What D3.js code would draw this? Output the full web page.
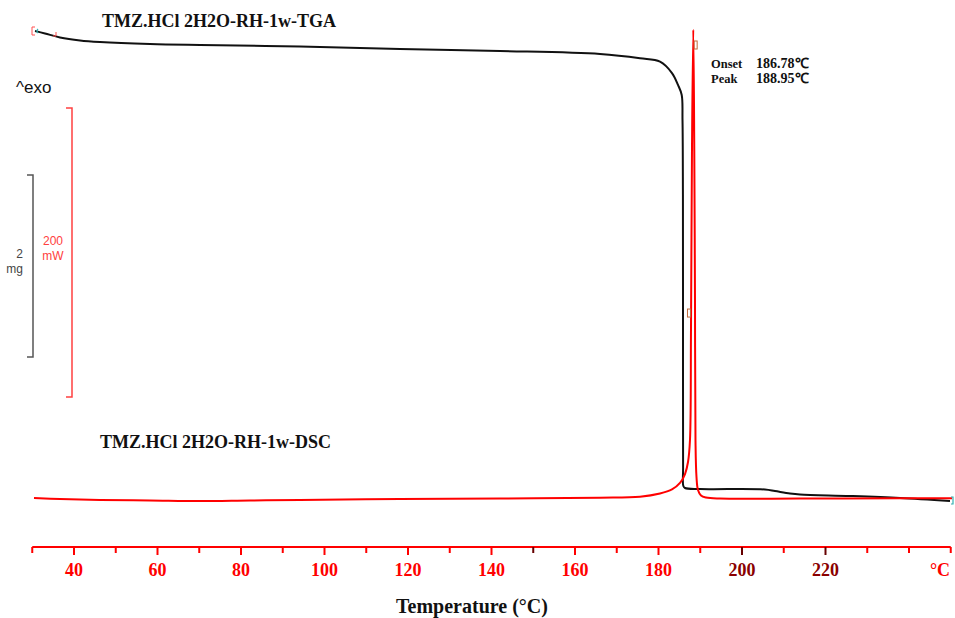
<!DOCTYPE html>
<html><head><meta charset="utf-8">
<script src="https://cdn.jsdelivr.net/npm/d3@7/dist/d3.min.js"></script>
<style>body{margin:0;background:#fff}svg{display:block}</style>
</head><body>
<svg id="c" width="955" height="618"></svg>
<script>
// ---- data ----
const tickValues = [40, 60, 80, 100, 120, 140, 160, 180, 200, 220];
const minorTicks = [30, 50, 70, 90, 110, 130, 150, 170, 190, 210, 230, 240];
const tgaTemp = [30.66, 33.05, 36.65, 41.44, 46.23, 58.2, 70.18, 94.13, 118.08, 142.04, 165.99, 175.57, 180.36, 183.23, 184.67, 185.56, 185.75, 185.85, 185.87, 185.89, 185.95, 186.35, 189.94, 205.51, 207.9, 211.5, 213.9, 225.87, 237.84, 249.82];
const tgaMass = [8.0, 7.973, 7.929, 7.896, 7.879, 7.857, 7.846, 7.83, 7.802, 7.78, 7.747, 7.7, 7.663, 7.538, 7.407, 7.297, 7.022, 6.2, 5.044, 3.2, 3.0, 2.978, 2.967, 2.962, 2.945, 2.918, 2.907, 2.89, 2.868, 2.835];
const dscTemp = [30.42, 36.65, 46.23, 58.2, 70.18, 82.16, 94.13, 118.08, 142.04, 165.99, 175.57, 180.36, 183.23, 185.15, 186.35, 187.07, 187.54, 187.78, 188.02, 188.33, 188.57, 188.74, 188.86, 189.1, 189.46, 190.18, 191.38, 194.73, 213.89, 237.84, 250.3];
const dscHeat = [0, -0.7, -1.4, -1.7, -2.1, -1.7, -1.4, -0.7, -0.35, 0.2, 0.9, 3.1, 5.9, 10.4, 16.6, 24.9, 40.1, 116, 241, 324, 241, 137, 40, 14.5, 5.5, 1.7, 0.35, -0.35, -0.35, -0.2, -0.14];
const onsetMarkTemp = [187.3, 188.9];
const onsetMarkHeat = [128, 313.5];
const tgaTitle = "TMZ.HCl 2H2O-RH-1w-TGA";
const dscTitle = "TMZ.HCl 2H2O-RH-1w-DSC";
const onsetLabel = ["Onset", "186.78℃"];
const peakLabel = ["Peak", "188.95℃"];

// ---- scales ----
const x = d3.scaleLinear().domain([30, 250]).range([32.25, 950.75]);
const yDsc = d3.scaleLinear().domain([0, 200]).range([498, 209]);   // mW, exo up
const yTga = d3.scaleLinear().domain([8, 6]).range([31, 213]);      // mg

const svg = d3.select("#c");
const serif = "'Liberation Serif','Times New Roman',serif";
const sans = "'Liberation Sans',Arial,sans-serif";
const RED = "#ff0000";

// ---- curves ----
const line = d3.line().curve(d3.curveCatmullRom.alpha(0.5));
const tgaPts = tgaTemp.map((t, i) => [x(t), yTga(tgaMass[i])]);
const dscPts = dscTemp.map((t, i) => [x(t), yDsc(dscHeat[i])]);

svg.append("path").attr("d", line(tgaPts)).attr("fill", "none")
  .attr("stroke", "#111").attr("stroke-width", 2);
svg.append("path").attr("d", line(dscPts)).attr("fill", "none")
  .attr("stroke", RED).attr("stroke-width", 2);

// start / end brackets
const s0 = tgaPts[0];
svg.append("path").attr("d", `M${s0[0]+0},${s0[1]-4} h-3 v8 h3`).attr("fill", "none").attr("stroke", "#ff5050").attr("stroke-width", 1);
svg.append("path").attr("d", `M${s0[0]+3},${s0[1]-2} q-2,2 0,4`).attr("fill", "none").attr("stroke", "#30b0b0").attr("stroke-width", 1.2);
svg.append("path").attr("d", `M${s0[0]+18},${s0[1]+5} h3 v-4`).attr("fill", "none").attr("stroke", "#ff5050").attr("stroke-width", 1);
const e0 = tgaPts[tgaPts.length - 1];
svg.append("path").attr("d", `M${e0[0]+1},${e0[1]-4} h2 v7 h-2`).attr("fill", "none").attr("stroke", "#30b0b0").attr("stroke-width", 1.2);

// onset markers
onsetMarkTemp.forEach((t, i) => {
  svg.append("rect").attr("x", x(t) - 1.5).attr("y", yDsc(onsetMarkHeat[i]) - 4)
    .attr("width", 3).attr("height", 8).attr("fill", "none")
    .attr("stroke", "#c06a3a").attr("stroke-width", 1);
});

// ---- x axis ----
const axY = 547;
svg.append("line").attr("x1", x(30)).attr("x2", x(250)).attr("y1", axY).attr("y2", axY)
  .attr("stroke", RED).attr("stroke-width", 2);
svg.selectAll(".mt").data(minorTicks.concat([250])).enter().append("line")
  .attr("x1", d => x(d)).attr("x2", d => x(d)).attr("y1", axY).attr("y2", axY + 6)
  .attr("stroke", d => d === 150 ? "#600" : RED).attr("stroke-width", 2);
svg.selectAll(".Mt").data(tickValues).enter().append("line")
  .attr("x1", d => x(d)).attr("x2", d => x(d)).attr("y1", axY).attr("y2", axY + 8)
  .attr("stroke", d => d >= 200 ? "#600" : RED).attr("stroke-width", 2);
svg.selectAll(".tl").data(tickValues).enter().append("text")
  .attr("x", d => x(d)).attr("y", 576).attr("text-anchor", "middle")
  .attr("font-family", serif).attr("font-weight", "bold").attr("font-size", 18)
  .attr("fill", d => d >= 200 ? "#8a0000" : RED).text(d => d);
svg.append("text").attr("x", 940).attr("y", 576).attr("text-anchor", "middle")
  .attr("font-family", serif).attr("font-weight", "bold").attr("font-size", 18)
  .attr("fill", RED).text("°C");
svg.append("text").attr("x", 472).attr("y", 613).attr("text-anchor", "middle")
  .attr("font-family", serif).attr("font-weight", "bold").attr("font-size", 20)
  .attr("fill", "#111").text("Temperature (°C)");

// ---- titles ----
svg.append("text").attr("x", 102).attr("y", 27).attr("font-family", serif)
  .attr("font-weight", "bold").attr("font-size", 18).attr("fill", "#111").text(tgaTitle);
svg.append("text").attr("x", 100).attr("y", 448).attr("font-family", serif)
  .attr("font-weight", "bold").attr("font-size", 18).attr("fill", "#111").text(dscTitle);
svg.append("text").attr("x", 16).attr("y", 93).attr("font-family", sans)
  .attr("font-size", 17).attr("fill", "#111").text("^exo");

// ---- annotation ----
[[onsetLabel, 68], [peakLabel, 83]].forEach(([lab, yy]) => {
  svg.append("text").attr("x", 711).attr("y", yy).attr("font-family", serif)
    .attr("font-weight", "bold").attr("font-size", 12.5).attr("fill", "#111").text(lab[0]);
  svg.append("text").attr("x", 756).attr("y", yy).attr("font-family", serif)
    .attr("font-weight", "bold").attr("font-size", 14).attr("fill", "#111").text(lab[1]);
});

// ---- scale bars ----
const mgTop = 175, mgLen = yTga(6) - yTga(8);
svg.append("path").attr("d", `M27,${mgTop} h6 v${mgLen} h-6`).attr("fill", "none")
  .attr("stroke", "#555").attr("stroke-width", 1.5);
svg.append("text").attr("x", 23).attr("y", 258).attr("text-anchor", "end")
  .attr("font-family", sans).attr("font-size", 12).attr("fill", "#444").text("2");
svg.append("text").attr("x", 23).attr("y", 273).attr("text-anchor", "end")
  .attr("font-family", sans).attr("font-size", 12).attr("fill", "#444").text("mg");
const mwTop = 108, mwLen = yDsc(0) - yDsc(200);
svg.append("path").attr("d", `M66,${mwTop} h6 v${mwLen} h-6`).attr("fill", "none")
  .attr("stroke", "#ff4040").attr("stroke-width", 1.5);
svg.append("text").attr("x", 53).attr("y", 245).attr("text-anchor", "middle")
  .attr("font-family", sans).attr("font-size", 12).attr("fill", "#ff4040").text("200");
svg.append("text").attr("x", 53).attr("y", 260).attr("text-anchor", "middle")
  .attr("font-family", sans).attr("font-size", 12).attr("fill", "#ff4040").text("mW");
</script>
</body></html>
